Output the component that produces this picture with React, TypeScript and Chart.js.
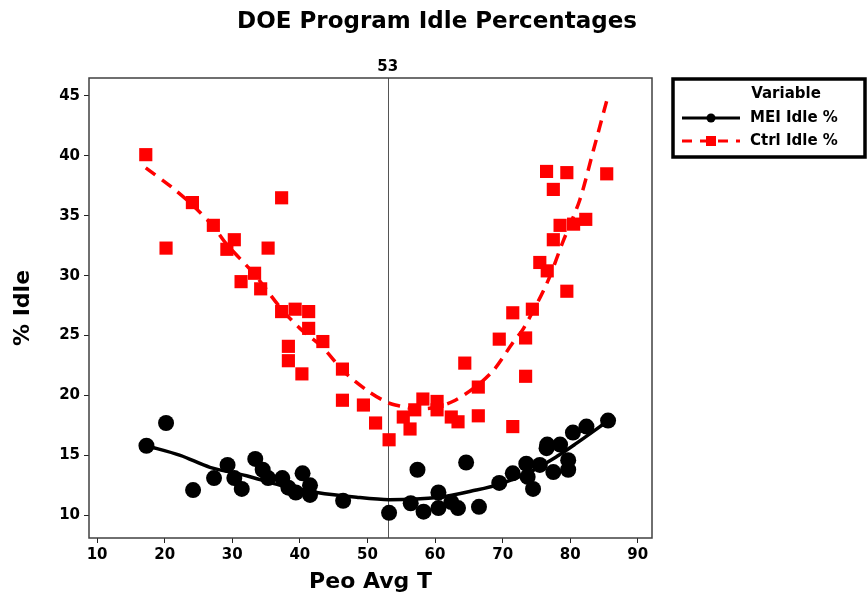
import React, { useEffect, useRef } from "react";
import { Chart, registerables } from "chart.js";

Chart.register(...registerables);

const FONT = '"DejaVu Sans", Verdana, sans-serif';

const chartTitle = "DOE Program Idle Percentages";
const xAxisTitle = "Peo Avg T";
const yAxisTitle = "% Idle";
const legendTitle = "Variable";
const seriesNames = ["MEI Idle %", "Ctrl Idle %"];
const refLineX = 53;

const xTicks = [10, 20, 30, 40, 50, 60, 70, 80, 90];
const yTicks = [10, 15, 20, 25, 30, 35, 40, 45];

const meiX = [17.3, 20.2, 24.2, 27.3, 29.3, 30.3, 31.4, 33.4, 34.5, 35.3, 37.4, 38.3, 39.4, 40.4, 41.5, 41.5, 46.4, 53.2, 56.4, 57.4, 58.3, 60.5, 60.5, 62.4, 63.4, 64.6, 66.5, 69.5, 71.5, 73.5, 73.7, 74.5, 75.5, 76.6, 76.5, 77.5, 78.5, 79.7, 79.7, 80.4, 82.4, 85.6];
const meiY = [15.8, 17.7, 12.1, 13.1, 14.2, 13.1, 12.2, 14.7, 13.8, 13.1, 13.1, 12.3, 11.9, 13.5, 12.5, 11.7, 11.2, 10.2, 11.0, 13.8, 10.3, 11.9, 10.6, 11.1, 10.6, 14.4, 10.7, 12.7, 13.5, 14.3, 13.2, 12.2, 14.2, 15.9, 15.6, 13.6, 15.9, 14.6, 13.8, 16.9, 17.4, 17.9];

const ctrlX = [17.2, 20.2, 24.1, 27.2, 29.2, 30.3, 31.3, 33.3, 34.2, 35.3, 37.3, 37.3, 38.3, 38.3, 39.3, 40.3, 41.3, 41.3, 43.4, 46.3, 46.3, 49.4, 51.2, 53.2, 55.3, 56.3, 57.0, 58.2, 60.3, 60.3, 62.4, 63.4, 64.4, 66.4, 66.4, 69.5, 71.5, 71.5, 73.4, 73.4, 74.4, 75.5, 76.6, 76.5, 77.5, 77.5, 78.5, 79.5, 79.5, 80.5, 82.3, 85.4];
const ctrlY = [40.1, 32.3, 36.1, 34.2, 32.2, 33.0, 29.5, 30.2, 28.9, 32.3, 36.5, 27.0, 24.1, 22.9, 27.2, 21.8, 27.0, 25.6, 24.5, 22.2, 19.6, 19.2, 17.7, 16.3, 18.2, 17.2, 18.8, 19.7, 19.5, 18.8, 18.2, 17.8, 22.7, 20.7, 18.3, 24.7, 26.9, 17.4, 24.8, 21.6, 27.2, 31.1, 30.4, 38.7, 37.2, 33.0, 34.2, 38.6, 28.7, 34.3, 34.7, 38.5];

const meiFitX = [17.3, 22.3, 26.7, 32.1, 37.1, 42.5, 48.4, 53.2, 60.7, 66.1, 69.6, 74.0, 78.0, 80.9, 84.4, 85.6];
const meiFitY = [15.8, 15.0, 14.0, 13.3, 12.5, 11.9, 11.5, 11.3, 11.5, 12.1, 12.6, 13.6, 14.9, 16.0, 17.4, 17.9];

const ctrlFitX = [17.2, 21.0, 24.1, 27.2, 29.2, 33.3, 37.3, 40.0, 43.4, 46.5, 50.0, 53.0, 55.0, 57.0, 60.0, 63.0, 66.4, 68.8, 71.5, 73.1, 76.5, 78.9, 81.4, 83.4, 85.4];
const ctrlFitY = [39.0, 37.4, 35.9, 34.1, 32.6, 30.1, 27.2, 25.6, 24.0, 22.0, 20.4, 19.4, 19.1, 18.9, 19.0, 19.6, 20.9, 22.2, 24.4, 25.6, 29.3, 32.8, 36.3, 40.4, 44.6];

const MEI_COLOR = "#000000";
const CTRL_COLOR = "#ff0000";

const toPts = (xs: number[], ys: number[]) => xs.map((x, i) => ({ x, y: ys[i] }));

const overlayPlugin = {
  id: "overlay",
  beforeDraw(chart: any) {
    const { ctx, width, height } = chart;
    ctx.save();
    ctx.fillStyle = "#ffffff";
    ctx.fillRect(0, 0, width, height);
    ctx.restore();
  },
  beforeDatasetsDraw(chart: any) {
    const { ctx, chartArea: a, scales } = chart;
    const rx = scales.x.getPixelForValue(refLineX);
    ctx.save();
    ctx.strokeStyle = "#555555";
    ctx.lineWidth = 1;
    ctx.beginPath();
    ctx.moveTo(Math.round(rx) + 0.5, a.top);
    ctx.lineTo(Math.round(rx) + 0.5, a.bottom);
    ctx.stroke();
    ctx.restore();
  },
  afterDraw(chart: any) {
    const { ctx, chartArea: a, scales, width } = chart;
    ctx.save();
    ctx.strokeStyle = "#404040";
    ctx.lineWidth = 1.5;
    ctx.strokeRect(a.left, a.top, a.right - a.left, a.bottom - a.top);

    const rx = scales.x.getPixelForValue(refLineX);
    ctx.fillStyle = "#000";
    ctx.font = `bold 15px ${FONT}`;
    ctx.textAlign = "center";
    ctx.textBaseline = "middle";
    ctx.fillText(String(refLineX), rx, a.top - 11);

    ctx.font = `bold 23px ${FONT}`;
    ctx.fillText(chartTitle, width / 2 + 3, 22);

    const bx = a.right + 21;
    const by = a.top + 1;
    const bw = width - 3 - bx;
    const bh = 78;
    ctx.strokeStyle = "#000";
    ctx.lineWidth = 3.5;
    ctx.strokeRect(bx, by, bw, bh);

    ctx.font = `bold 15px ${FONT}`;
    ctx.textAlign = "center";
    ctx.fillText(legendTitle, bx + 113, by + 15);

    const lx0 = bx + 9;
    const lx1 = bx + 67;
    const mx = (lx0 + lx1) / 2;
    const y1 = by + 39;
    const y2 = by + 62;

    ctx.lineWidth = 3;
    ctx.strokeStyle = MEI_COLOR;
    ctx.beginPath();
    ctx.moveTo(lx0, y1);
    ctx.lineTo(lx1, y1);
    ctx.stroke();
    ctx.fillStyle = MEI_COLOR;
    ctx.beginPath();
    ctx.arc(mx, y1, 4.5, 0, Math.PI * 2);
    ctx.fill();

    ctx.strokeStyle = CTRL_COLOR;
    ctx.setLineDash([10, 8]);
    ctx.beginPath();
    ctx.moveTo(lx0, y2);
    ctx.lineTo(lx1, y2);
    ctx.stroke();
    ctx.setLineDash([]);
    ctx.fillStyle = CTRL_COLOR;
    ctx.fillRect(mx - 5, y2 - 5, 10, 10);

    ctx.fillStyle = "#000";
    ctx.textAlign = "left";
    ctx.fillText(seriesNames[0], bx + 77, y1);
    ctx.fillText(seriesNames[1], bx + 77, y2);
    ctx.restore();
  },
};

export default function App() {
  const ref = useRef<HTMLCanvasElement | null>(null);

  useEffect(() => {
    document.body.style.margin = "0";
    if (!ref.current) return;
    const chart = new Chart(ref.current, {
      type: "scatter",
      data: {
        datasets: [
          {
            label: seriesNames[0],
            data: toPts(meiX, meiY),
            pointStyle: "circle",
            pointRadius: 8,
            pointBackgroundColor: MEI_COLOR,
            pointBorderWidth: 0,
            showLine: false,
          },
          {
            label: seriesNames[1],
            data: toPts(ctrlX, ctrlY),
            pointStyle: "rect",
            pointRadius: 9.3,
            pointBackgroundColor: CTRL_COLOR,
            pointBorderWidth: 0,
            showLine: false,
          },
          {
            label: "MEI fit",
            data: toPts(meiFitX, meiFitY),
            showLine: true,
            pointRadius: 0,
            borderColor: MEI_COLOR,
            borderWidth: 3.5,
            tension: 0.3,
          },
          {
            label: "Ctrl fit",
            data: toPts(ctrlFitX, ctrlFitY),
            showLine: true,
            pointRadius: 0,
            borderColor: CTRL_COLOR,
            borderWidth: 3.5,
            borderDash: [12, 8],
            tension: 0.3,
          },
        ],
      },
      options: {
        animation: false,
        responsive: true,
        maintainAspectRatio: false,
        layout: { padding: { left: 10, right: 216, top: 78, bottom: 0 } },
        plugins: {
          legend: { display: false },
          title: { display: false },
          tooltip: { enabled: false },
        },
        scales: {
          x: {
            type: "linear",
            min: 8.8,
            max: 92.1,
            afterFit: (s: any) => {
              s.height = 63;
            },
            afterBuildTicks: (s: any) => {
              s.ticks = xTicks.map((v) => ({ value: v }));
            },
            border: { display: false },
            grid: { drawOnChartArea: false, drawTicks: true, tickLength: 5, color: "#222" },
            ticks: {
              color: "#000",
              padding: 3,
              font: { family: FONT, size: 15, weight: "bold" },
              maxRotation: 0,
            },
            title: {
              display: true,
              text: xAxisTitle,
              color: "#000",
              font: { family: FONT, size: 22, weight: "bold" },
              padding: { top: 0, bottom: 6 },
            },
          },
          y: {
            type: "linear",
            min: 8.1,
            max: 46.5,
            afterFit: (s: any) => {
              s.width = 79;
            },
            afterBuildTicks: (s: any) => {
              s.ticks = yTicks.map((v) => ({ value: v }));
            },
            border: { display: false },
            grid: { drawOnChartArea: false, drawTicks: true, tickLength: 5, color: "#222" },
            ticks: {
              color: "#000",
              padding: 4,
              font: { family: FONT, size: 15, weight: "bold" },
            },
            title: {
              display: true,
              text: yAxisTitle,
              color: "#000",
              font: { family: FONT, size: 22, weight: "bold" },
              padding: { top: 0, bottom: 10 },
            },
          },
        },
      },
      plugins: [overlayPlugin],
    });
    return () => chart.destroy();
  }, []);

  return (
    <div style={{ position: "fixed", left: 0, top: 0, width: 868, height: 601 }}>
      <canvas ref={ref} />
    </div>
  );
}
